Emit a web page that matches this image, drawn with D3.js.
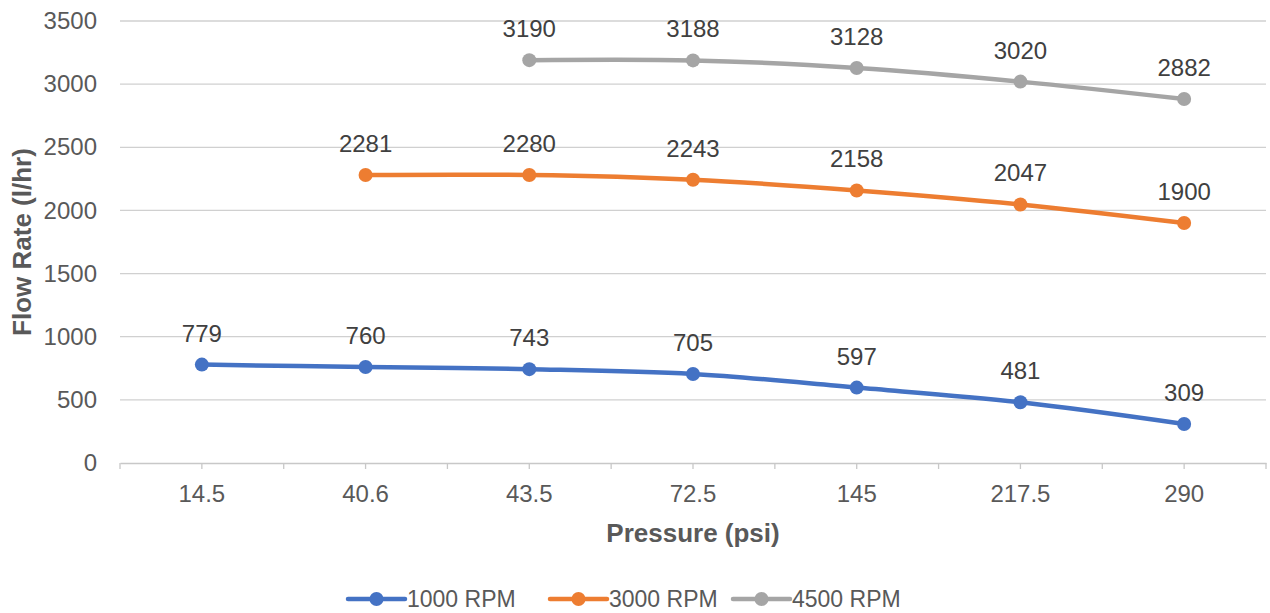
<!DOCTYPE html>
<html>
<head>
<meta charset="utf-8">
<script src="https://cdn.jsdelivr.net/npm/d3@7"></script>
<style>
  body { margin: 0; background: #fff; }
  svg { display: block; font-family: "Liberation Sans", Arial, Helvetica, sans-serif; }
</style>
</head>
<body>
<svg id="chart" width="1270" height="613"></svg>
<script>
// categories on the x axis (pressure, psi)
const pressures = ['14.5', '40.6', '43.5', '72.5', '145', '217.5', '290'];
// flow rate per series, null where there is no point
const rpm1000 = [779, 760, 743, 705, 597, 481, 309];
const rpm3000 = [null, 2281, 2280, 2243, 2158, 2047, 1900];
const rpm4500 = [null, null, 3190, 3188, 3128, 3020, 2882];
const yTicks = [0, 500, 1000, 1500, 2000, 2500, 3000, 3500];

const series = [
  { name: '1000 RPM', values: rpm1000, color: '#4472C4' },
  { name: '3000 RPM', values: rpm3000, color: '#ED7D31' },
  { name: '4500 RPM', values: rpm4500, color: '#A5A5A5' }
];

const svg = d3.select('#chart');
const margin = { left: 120, right: 1266, top: 21, bottom: 463 };
const textColor = '#595959';
const numSize = '24px';

const x = d3.scaleBand().domain(pressures).range([margin.left, margin.right]);
const y = d3.scaleLinear().domain([0, 3500]).range([margin.bottom, margin.top]);

// gridlines
svg.append('g')
  .selectAll('line')
  .data(yTicks.filter(d => d > 0))
  .join('line')
  .attr('x1', margin.left)
  .attr('x2', margin.right)
  .attr('y1', d => y(d))
  .attr('y2', d => y(d))
  .attr('stroke', '#d0d0d0')
  .attr('stroke-width', 1.3);

// y axis labels
const yAxis = svg.append('g')
  .attr('transform', `translate(${margin.left},0)`)
  .call(d3.axisLeft(y).tickValues(yTicks).tickFormat(d3.format('d')).tickSize(0).tickPadding(23));
yAxis.select('.domain').remove();
yAxis.selectAll('text')
  .attr('fill', textColor)
  .style('font-size', numSize)
  .style('font-family', '"Liberation Sans", Arial, sans-serif');

// x axis, ticks at category centres and borders
const xAxis = svg.append('g')
  .attr('transform', `translate(0,${margin.bottom})`)
  .call(d3.axisBottom(x).tickSize(0).tickPadding(22));
xAxis.select('.domain').attr('stroke', '#c8c8c8').attr('stroke-width', 1.3);
xAxis.selectAll('text')
  .attr('fill', textColor)
  .style('font-size', numSize)
  .style('font-family', '"Liberation Sans", Arial, sans-serif');
const half = x.bandwidth() / 2;
const tickPos = [];
pressures.forEach(p => { tickPos.push(x(p), x(p) + half); });
tickPos.push(margin.right);
xAxis.selectAll('.mark')
  .data(tickPos)
  .join('line')
  .attr('class', 'mark')
  .attr('x1', d => d)
  .attr('x2', d => d)
  .attr('y1', 0)
  .attr('y2', 6)
  .attr('stroke', '#c8c8c8')
  .attr('stroke-width', 1.3);

// axis titles
svg.append('text')
  .attr('x', (margin.left + margin.right) / 2)
  .attr('y', 542)
  .attr('text-anchor', 'middle')
  .attr('fill', textColor)
  .style('font-size', '26px')
  .style('font-weight', 'bold')
  .text('Pressure (psi)');

svg.append('text')
  .attr('transform', `translate(31,${(margin.top + margin.bottom) / 2}) rotate(-90)`)
  .attr('text-anchor', 'middle')
  .attr('fill', textColor)
  .style('font-size', '26px')
  .style('font-weight', 'bold')
  .text('Flow Rate (l/hr)');

const cx = i => x(pressures[i]) + half;

const line = d3.line()
  .defined(d => d.v !== null)
  .x(d => cx(d.i))
  .y(d => y(d.v))
  .curve(d3.curveCatmullRom.alpha(0.5));

series.forEach(s => {
  const pts = s.values.map((v, i) => ({ v, i }));
  const g = svg.append('g');
  g.append('path')
    .datum(pts)
    .attr('d', line)
    .attr('fill', 'none')
    .attr('stroke', s.color)
    .attr('stroke-width', 4.5)
    .attr('stroke-linecap', 'round');
  const valid = pts.filter(d => d.v !== null);
  g.selectAll('circle')
    .data(valid)
    .join('circle')
    .attr('cx', d => cx(d.i))
    .attr('cy', d => y(d.v))
    .attr('r', 7)
    .attr('fill', s.color);
  g.selectAll('text')
    .data(valid)
    .join('text')
    .attr('x', d => cx(d.i))
    .attr('y', d => y(d.v) - 23)
    .attr('text-anchor', 'middle')
    .attr('fill', '#404040')
    .style('font-size', numSize)
    .text(d => d.v);
});

// legend
const legendX = [348, 550, 733];
const legend = svg.append('g');
series.forEach((s, k) => {
  const lg = legend.append('g').attr('transform', `translate(${legendX[k]},599)`);
  lg.append('line')
    .attr('x1', 0).attr('x2', 57)
    .attr('y1', 0).attr('y2', 0)
    .attr('stroke', s.color)
    .attr('stroke-width', 4.5)
    .attr('stroke-linecap', 'round');
  lg.append('circle').attr('cx', 28.5).attr('cy', 0).attr('r', 7).attr('fill', s.color);
  lg.append('text')
    .attr('x', 59)
    .attr('y', 8)
    .attr('fill', textColor)
    .style('font-size', '23px')
    .text(s.name);
});
</script>
</body>
</html>
